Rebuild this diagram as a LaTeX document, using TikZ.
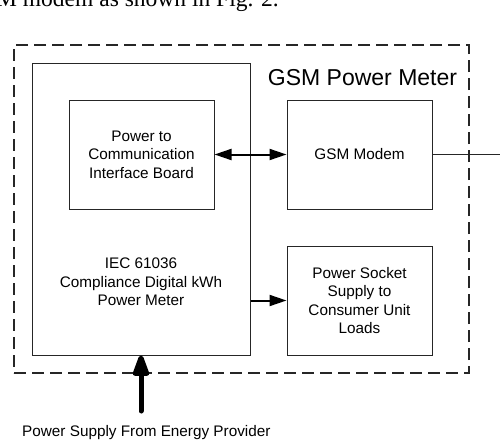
\documentclass[tikz,border=0pt]{standalone}
\usepackage{fontspec}
\setmainfont{Liberation Sans}
\newfontfamily\serifpaper{Liberation Serif}
\usetikzlibrary{arrows.meta}
\begin{document}
\begin{tikzpicture}[x=1pt,y=-1pt,
  blk/.style={draw=black!85,line width=1pt,inner sep=0pt,align=center,
    font=\fontsize{15.3}{18.5}\selectfont},
  boxtext/.style={align=center,inner sep=0pt,font=\fontsize{15.3}{18.5}\selectfont},
  dashbox/.style={draw=black!85,line width=1.5pt,dash pattern=on 12pt off 6pt,inner sep=0pt},
  conn/.style={draw=black,line width=2pt,-{Triangle[length=17pt,width=11pt]}},
  biconn/.style={draw=black,line width=2pt,{Triangle[length=17pt,width=11pt]}-{Triangle[length=17pt,width=11pt]}},
  plain/.style={draw=black!85,line width=1pt},
  bigarrow/.style={draw=black,line width=5pt,line cap=round,-{Triangle[length=26pt,width=17pt,round]}}]
\useasboundingbox (0,0) rectangle (500,439);
\fill[white] (0,0) rectangle (500,439);
% clipped paper text at the top
\node[anchor=base west,inner sep=0pt,font=\serifpaper\fontsize{23.5}{26}\selectfont] (papertext) at (-4,6) {M modem as shown in Fig. 2.};
% outer dashed frame
\node[dashbox,minimum width=455pt,minimum height=328pt] (outer) at (241.5,209) {};
\node[anchor=base,inner sep=0pt,font=\fontsize{23}{26}\selectfont] (title) at (362.5,85) {GSM Power Meter};
% meter box
\node[blk,minimum width=218pt,minimum height=292pt] (meter) at (141,209) {};
\node[boxtext] (metertext) at (141,282) {IEC 61036\\Compliance Digital kWh\\Power Meter};
% inner boxes
\node[blk,minimum width=145pt,minimum height=109pt] (board) at (141.5,154.5) {Power to\\Communication\\Interface Board};
\node[blk,minimum width=145pt,minimum height=109pt] (modem) at (359.5,154.5) {GSM Modem};
\node[blk,minimum width=145pt,minimum height=109pt] (socket) at (359.5,300.5) {Power Socket\\Supply to\\Consumer Unit\\Loads};
% connectors
\draw[biconn] (board.east) -- (modem.west);
\coordinate (lineend) at (501,154.5);
\draw[plain] (modem.east) -- (lineend);
\draw[conn] (meter.east |- socket.west) -- (socket.west);
\coordinate (src) at (141,411);
\draw[bigarrow] (src) -- (meter.south);
\node[anchor=base west,inner sep=0pt,font=\fontsize{15.3}{18}\selectfont] (provider) at (22,436) {Power Supply From Energy Provider};
\end{tikzpicture}
\end{document}
